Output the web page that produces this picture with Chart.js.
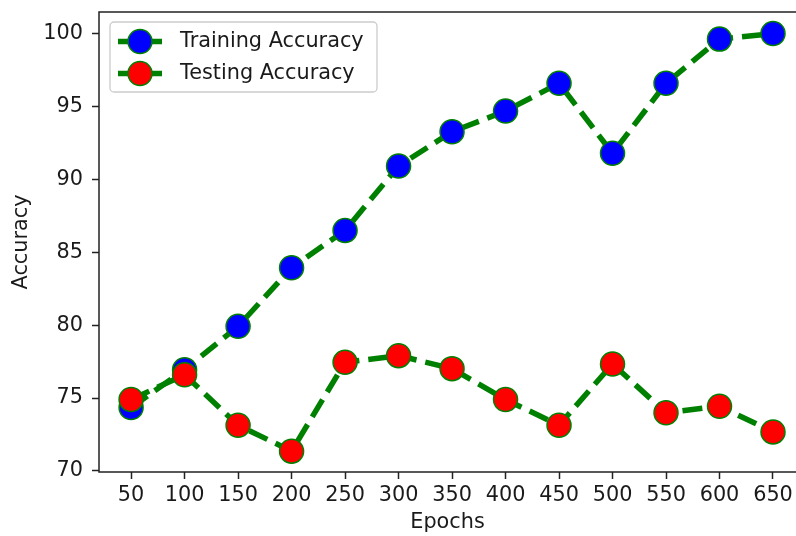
<!DOCTYPE html>
<html><head><meta charset="utf-8">
<script src="https://cdn.jsdelivr.net/npm/chart.js@4/dist/chart.umd.min.js"></script>
<style>html,body{margin:0;padding:0;overflow:hidden;background:#fff;width:796px;height:536px}canvas{display:block}</style>
</head><body>
<canvas id="c" width="796" height="536"></canvas>
<script>
// ---- data ----
const epochs = [50, 100, 150, 200, 250, 300, 350, 400, 450, 500, 550, 600, 650];
const trainingAccuracy = [74.35, 76.95, 79.92, 83.94, 86.5, 90.92, 93.27, 94.69, 96.59, 91.79, 96.59, 99.62, 100.0];
const testingAccuracy  = [74.9, 76.6, 73.14, 71.36, 77.45, 77.91, 77.02, 74.9, 73.14, 77.34, 73.99, 74.44, 72.68];
const yTickValues = [70, 75, 80, 85, 90, 95, 100];
const seriesLabels = ['Training Accuracy', 'Testing Accuracy'];
const xTitle = 'Epochs';
const yTitle = 'Accuracy';

const FONT = 'DejaVu Sans';
const FS = 20.8;
const TXT = '#1a1a1a';
const GREEN = '#008000';

Chart.defaults.font.family = FONT;
Chart.defaults.font.size = FS;
Chart.defaults.color = TXT;

// spines: left, bottom, top (the right spine lies just past the picture's edge)
const framePlugin = {
  id: 'frame',
  afterDatasetsDraw(chart) {
    const {ctx, chartArea: a} = chart;
    ctx.save();
    ctx.strokeStyle = '#222';
    ctx.lineWidth = 1.5;
    ctx.beginPath();
    ctx.moveTo(a.right + 2, a.top);
    ctx.lineTo(a.left, a.top);
    ctx.lineTo(a.left, a.bottom);
    ctx.lineTo(a.right + 2, a.bottom);
    ctx.stroke();
    ctx.restore();
  }
};

const legendPlugin = {
  id: 'mplLegend',
  afterDraw(chart) {
    const {ctx} = chart;
    const bx = 110, by = 22, bw = 267, bh = 70, r = 4;
    ctx.save();
    ctx.beginPath();
    ctx.roundRect(bx, by, bw, bh, r);
    ctx.fillStyle = 'rgba(255,255,255,0.8)';
    ctx.fill();
    ctx.strokeStyle = '#cccccc';
    ctx.lineWidth = 1.3;
    ctx.stroke();
    const rows = [41.5, 73.5];
    chart.data.datasets.forEach((ds, i) => {
      const y = rows[i];
      ctx.beginPath();
      ctx.moveTo(118, y); ctx.lineTo(162, y);
      ctx.strokeStyle = ds.borderColor;
      ctx.lineWidth = ds.borderWidth;
      ctx.lineCap = 'butt';
      ctx.stroke();
      ctx.beginPath();
      ctx.arc(140, y, ds.pointRadius, 0, Math.PI * 2);
      ctx.fillStyle = ds.pointBackgroundColor;
      ctx.fill();
      ctx.strokeStyle = ds.pointBorderColor;
      ctx.lineWidth = ds.pointBorderWidth;
      ctx.stroke();
      ctx.fillStyle = TXT;
      ctx.font = FS + 'px "' + FONT + '"';
      ctx.textBaseline = 'middle';
      ctx.textAlign = 'left';
      ctx.fillText(ds.label, 180, y);
    });
    ctx.restore();
  }
};

const mkDs = (label, data, fill, order) => ({
  label, data: epochs.map((e, i) => ({x: e, y: data[i]})),
  borderColor: GREEN, borderWidth: 5.5, borderDash: [20, 9],
  pointRadius: 12, pointHoverRadius: 12,
  pointBackgroundColor: fill, pointBorderColor: GREEN, pointBorderWidth: 1.5,
  tension: 0, fill: false, order
});

new Chart(document.getElementById('c'), {
  type: 'line',
  data: {
    datasets: [
      mkDs(seriesLabels[0], trainingAccuracy, '#0000ff', 2),
      mkDs(seriesLabels[1], testingAccuracy, '#ff0000', 1)
    ]
  },
  options: {
    responsive: false, animation: false, devicePixelRatio: 1,
    layout: {autoPadding: false, padding: {left: 0, top: 12, right: 0, bottom: 0}},
    plugins: {legend: {display: false}, tooltip: {enabled: false}},
    scales: {
      x: {
        type: 'linear', min: 20, max: 671.5,
        afterBuildTicks: s => { s.ticks = epochs.map(v => ({value: v})); },
        afterFit: s => { s.height = 64; s.paddingLeft = 0; s.paddingRight = 0; },
        ticks: {padding: 4, color: TXT, maxRotation: 0, autoSkip: false, callback: v => String(v)},
        grid: {drawOnChartArea: false, drawTicks: true, tickLength: 7, tickColor: '#222', tickWidth: 1.5},
        border: {display: false},
        title: {display: true, text: xTitle, color: TXT, padding: {top: 0, bottom: 1}, font: {size: FS},
                align: 'center'}
      },
      y: {
        type: 'linear', min: 69.93, max: 101.48,
        afterBuildTicks: s => { s.ticks = yTickValues.map(v => ({value: v})); },
        afterFit: s => { s.width = 99; s.paddingTop = 0; s.paddingBottom = 0; },
        ticks: {padding: 9, color: TXT, autoSkip: false, callback: v => String(v)},
        grid: {drawOnChartArea: false, drawTicks: true, tickLength: 7, tickColor: '#222', tickWidth: 1.5},
        border: {display: false},
        title: {display: true, text: yTitle, color: TXT, padding: {top: 9, bottom: 0}, font: {size: FS}}
      }
    }
  },
  plugins: [framePlugin, legendPlugin]
});
</script>
</body></html>
